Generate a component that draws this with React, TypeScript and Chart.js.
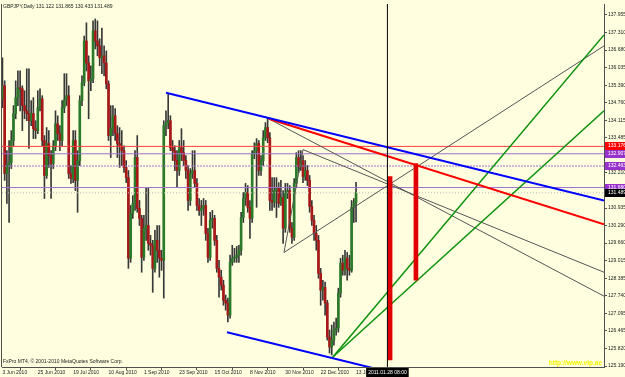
import React, { useEffect, useRef } from 'react';
import { Chart, registerables } from 'chart.js';

Chart.register(...registerables);

// ---------- data ----------
const title = 'GBPJPY,Daily 131.122 131.865 130.433 131.489';
const copyright = 'FxPro MT4, © 2001-2010 MetaQuotes Software Corp.';
const siteText = 'http://www.vip.ae';
const cursorDate = '2011.01.28 08:00';

const dateLabels = ['3 Jun 2010', '25 Jun 2010', '19 Jul 2010', '10 Aug 2010', '1 Sep 2010', '23 Sep 2010', '15 Oct 2010', '8 Nov 2010', '30 Nov 2010', '22 Dec 2010', '13 Jan 2011'];
const dateBars = [0, 16, 32, 48, 64, 80, 96, 112, 128, 144, 160];

const priceTicks = [137.955, 137.31, 136.68, 136.035, 135.39, 134.76, 134.115, 133.485, 132.21, 130.935, 130.29, 129.66, 129.015, 128.385, 127.74, 127.095, 126.465, 125.82, 125.19];

const opens = [134.91, 135.38, 132.19, 132.48, 132.59, 133.39, 134.37, 134.95, 135.31, 135.27, 134.66, 134.47, 134.37, 134.11, 134.37, 133.82, 133.75, 134.58, 134.91, 133.39, 132.12, 133.28, 132.84, 132.55, 133.17, 134.00, 133.64, 133.39, 134.58, 134.87, 135.02, 132.19, 132.01, 133.39, 131.94, 132.66, 134.84, 135.49, 137.01, 136.21, 135.56, 135.63, 137.38, 137.01, 136.83, 136.40, 136.47, 136.21, 135.45, 133.57, 133.82, 134.29, 133.64, 133.28, 133.17, 133.02, 132.41, 132.04, 129.11, 130.74, 131.10, 132.77, 130.92, 130.56, 129.14, 130.20, 130.30, 129.65, 129.58, 128.74, 129.76, 129.40, 129.11, 129.03, 133.93, 134.04, 134.11, 133.13, 133.02, 132.66, 132.30, 133.13, 132.95, 132.66, 132.30, 131.21, 132.19, 132.30, 131.83, 131.03, 130.85, 130.92, 131.03, 130.01, 129.14, 130.49, 130.56, 129.76, 128.74, 128.42, 128.13, 127.58, 127.48, 127.04, 128.96, 129.11, 129.14, 129.22, 129.40, 130.59, 131.28, 131.50, 130.96, 130.56, 132.91, 133.02, 133.28, 132.30, 132.66, 133.49, 133.86, 133.49, 131.21, 131.14, 131.57, 131.65, 131.10, 131.32, 130.20, 131.50, 131.57, 130.20, 129.87, 131.83, 132.77, 132.44, 132.66, 132.08, 132.30, 131.94, 130.99, 130.49, 130.01, 129.76, 128.56, 127.95, 128.05, 127.48, 126.24, 125.88, 126.13, 126.50, 126.57, 127.84, 128.93, 128.67, 129.11, 128.74, 128.67, 130.96, 131.122];
const highs = [136.40, 135.56, 133.02, 133.39, 133.75, 134.66, 135.56, 135.92, 135.92, 135.38, 135.20, 136.00, 136.00, 134.84, 134.95, 134.11, 135.20, 135.27, 135.02, 133.57, 133.86, 133.75, 133.02, 133.39, 134.47, 134.29, 133.93, 134.84, 135.82, 135.82, 135.38, 132.48, 133.75, 133.75, 133.02, 135.02, 135.74, 137.19, 137.67, 136.47, 136.11, 137.74, 137.81, 137.74, 137.09, 137.48, 136.83, 136.65, 135.56, 134.66, 134.66, 134.55, 133.93, 133.86, 133.75, 133.20, 132.66, 132.30, 131.03, 131.39, 133.02, 133.57, 131.21, 130.67, 130.67, 131.65, 131.65, 129.94, 129.76, 130.12, 130.30, 130.30, 129.40, 134.11, 134.47, 135.09, 134.29, 133.39, 133.20, 133.02, 133.39, 133.82, 133.39, 132.84, 132.48, 132.37, 133.02, 133.02, 132.01, 131.28, 131.21, 131.28, 131.21, 130.20, 130.78, 130.85, 130.67, 129.94, 129.03, 128.67, 128.31, 127.77, 127.66, 129.22, 129.58, 129.47, 129.54, 129.58, 130.78, 131.50, 131.83, 131.75, 131.21, 133.02, 133.31, 133.46, 133.39, 132.84, 133.75, 134.04, 134.22, 133.68, 132.04, 132.04, 132.04, 131.86, 131.94, 131.57, 131.83, 131.83, 131.75, 130.41, 132.01, 132.95, 133.02, 133.02, 132.84, 132.66, 132.48, 132.12, 131.21, 130.67, 130.30, 129.94, 128.74, 128.31, 128.24, 127.58, 126.50, 126.68, 126.79, 126.93, 128.02, 129.11, 129.22, 129.40, 129.32, 129.22, 131.21, 131.28, 131.865];
const lows = [134.58, 131.94, 131.10, 130.41, 132.37, 133.20, 134.18, 134.66, 134.47, 133.75, 134.18, 134.11, 133.10, 133.93, 133.46, 133.46, 133.64, 134.47, 133.20, 131.28, 132.01, 132.41, 131.28, 132.37, 133.02, 133.39, 133.02, 133.20, 134.40, 134.66, 132.01, 131.83, 131.86, 131.57, 130.78, 132.48, 134.66, 135.38, 135.92, 134.18, 135.20, 135.49, 136.72, 136.47, 136.11, 135.82, 135.74, 135.27, 133.39, 132.77, 133.57, 133.39, 132.77, 132.41, 132.48, 132.23, 131.86, 128.74, 128.96, 130.56, 130.85, 130.78, 130.30, 128.60, 129.03, 129.76, 129.40, 129.22, 127.87, 128.60, 128.96, 128.42, 128.67, 127.66, 133.57, 133.82, 133.02, 132.66, 132.30, 131.68, 132.12, 132.66, 132.48, 132.01, 130.85, 131.03, 132.01, 131.68, 130.85, 130.67, 130.30, 130.67, 129.76, 128.96, 129.03, 130.20, 129.58, 128.60, 127.69, 127.95, 127.40, 127.22, 126.79, 126.93, 128.85, 128.96, 128.96, 128.96, 129.22, 130.41, 131.03, 130.78, 129.83, 130.41, 132.73, 130.96, 132.12, 132.12, 132.48, 133.39, 133.31, 130.85, 130.85, 130.96, 130.59, 130.96, 131.03, 129.65, 130.05, 131.28, 130.05, 129.65, 129.76, 131.68, 132.23, 132.30, 131.86, 131.94, 131.75, 130.78, 130.30, 129.76, 129.40, 128.38, 127.40, 127.58, 127.04, 126.13, 125.66, 125.59, 125.95, 126.31, 126.42, 127.69, 128.49, 128.49, 128.31, 128.49, 128.60, 130.41, 130.433];
const closes = [135.38, 132.19, 132.48, 132.59, 133.39, 134.37, 134.95, 135.31, 135.27, 134.66, 134.47, 134.37, 134.11, 134.37, 133.82, 133.75, 134.58, 134.91, 133.39, 132.12, 133.28, 132.84, 132.55, 133.17, 134.00, 133.64, 133.39, 134.58, 134.87, 135.02, 132.19, 132.01, 133.39, 131.94, 132.66, 134.84, 135.49, 137.01, 136.21, 135.56, 135.63, 137.38, 137.01, 136.83, 136.40, 136.47, 136.21, 135.45, 133.57, 133.82, 134.29, 133.64, 133.28, 133.17, 133.02, 132.41, 132.04, 129.11, 130.74, 131.10, 132.77, 130.92, 130.56, 129.14, 130.20, 130.30, 129.65, 129.58, 128.74, 129.76, 129.40, 129.11, 129.03, 133.93, 134.04, 134.11, 133.13, 133.02, 132.66, 132.30, 133.13, 132.95, 132.66, 132.30, 131.21, 132.19, 132.30, 131.83, 131.03, 130.85, 130.92, 131.03, 130.01, 129.14, 130.49, 130.56, 129.76, 128.74, 128.42, 128.13, 127.58, 127.48, 127.04, 128.96, 129.11, 129.14, 129.22, 129.40, 130.59, 131.28, 131.50, 130.96, 130.56, 132.91, 133.02, 133.28, 132.30, 132.66, 133.49, 133.86, 133.49, 131.21, 131.14, 131.57, 131.65, 131.10, 131.32, 130.20, 131.50, 131.57, 130.20, 129.87, 131.83, 132.77, 132.44, 132.66, 132.08, 132.30, 131.94, 130.99, 130.49, 130.01, 129.76, 128.56, 127.95, 128.05, 127.48, 126.24, 125.88, 126.13, 126.50, 126.57, 127.84, 128.93, 128.67, 129.11, 128.74, 128.67, 130.96, 131.122, 131.489];

// horizontal price levels
const levelPrices = [133.176, 132.907, 132.463, 131.68, 131.489];

// trend objects: [barIndex, price] pairs
const blueUpper = [[74, 135.13], [272.2, 131.21]];
const blueLower = [[101.6, 126.42], [272.2, 123.05]];
const redTrend = [[120.5, 134.18], [272.2, 130.34]];
const grayA = [[120.5, 134.18], [272.2, 127.73]];
const grayB = [[136.0, 133.06], [272.2, 128.6]];
const grayC = [[127.4, 129.32], [272.2, 136.83]];
const grayD = [[127.4, 129.32], [136.0, 133.06]];
const greenA = [[149.5, 125.52], [272.2, 137.23]];
const greenB = [[149.5, 125.52], [272.2, 134.47]];
const redBarX = [175.4, 187.1];
const redBarLow = [125.41, 128.31];
const redBarHigh = [132.08, 132.55];
const cursorBar = 174.2;

// ---------- styles ----------
const X_MIN = -0.2;
const X_MAX = 272.2;
const Y_MIN = 125.154;
const Y_MAX = 138.354;
const BG = '#FFFFE0';
const FONT = "'Liberation Sans', Arial, sans-serif";
const AXIS = '#505050';
const UP = '#2A7A2A';
const DOWN = '#A81818';
const levelLineColors = ['#FF4040', '#A070D0', '#A070D0', '#A070D0', '#B8B8B8'];
const levelDashes: number[][] = [[], [], [2, 1], [], [1, 2]];
const levelBoxColors = ['#FF0000', '#9932CC', '#9932CC', '#9932CC', '#000000'];

const seg = (pts: number[][]) => pts.map(([x, y]) => ({ x, y }));

const lineDs = (pts: number[][], color: string, width: number, dash: number[] = []) => ({
  type: 'line' as const,
  data: seg(pts),
  borderColor: color,
  borderWidth: width,
  borderDash: dash,
  pointRadius: 0,
  fill: false,
  tension: 0,
});

const overlayPlugin = {
  id: 'overlay',
  beforeDraw(chart: any) {
    const ctx = chart.ctx;
    ctx.save();
    ctx.fillStyle = BG;
    ctx.fillRect(0, 0, chart.width, chart.height);
    ctx.restore();
  },
  afterDraw(chart: any) {
    const { ctx, chartArea, scales } = chart;
    ctx.save();
    // left border
    ctx.strokeStyle = AXIS;
    ctx.lineWidth = 1;
    ctx.beginPath();
    ctx.moveTo(chartArea.left - 0.5, chartArea.top);
    ctx.lineTo(chartArea.left - 0.5, chartArea.bottom);
    ctx.stroke();

    ctx.textBaseline = 'middle';
    ctx.textAlign = 'left';
    ctx.font = `5px ${FONT}`;
    ctx.fillStyle = '#202020';
    ctx.fillText(title, chartArea.left + 1, 7);
    ctx.fillText(copyright, chartArea.left + 1, 362);

    ctx.font = `bold 6.5px ${FONT}`;
    ctx.fillStyle = '#F2F200';
    ctx.textAlign = 'right';
    ctx.fillText(siteText, chartArea.right - 2, 363);

    // price level labels on the axis
    ctx.font = `5px ${FONT}`;
    ctx.textAlign = 'left';
    levelPrices.forEach((p, i) => {
      const y = scales.y.getPixelForValue(p);
      ctx.fillStyle = levelBoxColors[i];
      ctx.fillRect(chartArea.right + 1, Math.round(y) - 4, 21, 8);
      ctx.fillStyle = '#FFFFFF';
      ctx.fillText(p.toFixed(3), chartArea.right + 4, Math.round(y));
    });

    // cursor date label
    const cx = scales.x.getPixelForValue(cursorBar);
    ctx.font = `5px ${FONT}`;
    const w = ctx.measureText(cursorDate).width + 4;
    ctx.fillStyle = '#000000';
    ctx.fillRect(cx - w / 2, chartArea.bottom + 1, w, 9);
    ctx.fillStyle = '#FFFFFF';
    ctx.textAlign = 'center';
    ctx.fillText(cursorDate, cx, chartArea.bottom + 5.5);
    ctx.restore();
  },
};

export default function App() {
  const ref = useRef<HTMLCanvasElement | null>(null);

  useEffect(() => {
    document.body.style.margin = '0';
    const canvas = ref.current;
    if (!canvas) return;

    const bodies = opens.map((o, i) => ({ x: i, y: [o, closes[i]] }));
    const bodyColors = opens.map((o, i) => (closes[i] >= o ? UP : DOWN));
    const wicks = lows.map((l, i) => ({ x: i, y: [l, highs[i]] }));

    const levelDs = levelPrices.map((p, i) =>
      lineDs([[X_MIN, p], [X_MAX, p]], levelLineColors[i], 1, levelDashes[i])
    );

    const chart = new Chart(canvas, {
      type: 'bar',
      data: {
        datasets: [
          lineDs([[cursorBar, Y_MIN], [cursorBar, Y_MAX]], '#000000', 1),
          {
            type: 'bar',
            data: redBarX.map((x, i) => ({ x, y: [redBarLow[i], redBarHigh[i]] })),
            backgroundColor: '#E00000',
            barThickness: 4,
            grouped: false,
          } as any,
          lineDs(blueUpper, '#0000FF', 2),
          lineDs(blueLower, '#0000FF', 2),
          lineDs(redTrend, '#FF0000', 2),
          lineDs(greenA, '#0A900A', 1.5),
          lineDs(greenB, '#0A900A', 1.5),
          lineDs(grayA, '#555555', 1),
          lineDs(grayB, '#555555', 1),
          lineDs(grayC, '#555555', 1),
          lineDs(grayD, '#555555', 1),
          ...levelDs,
          {
            type: 'bar',
            data: bodies,
            backgroundColor: bodyColors,
            barThickness: 2,
            minBarLength: 1,
            grouped: false,
          } as any,
          {
            type: 'bar',
            data: wicks,
            backgroundColor: '#383838',
            barThickness: 1,
            grouped: false,
          } as any,
        ],
      },
      options: {
        responsive: false,
        animation: false,
        events: [],
        devicePixelRatio: 1,
        layout: { padding: { left: 2, top: 3, right: 0, bottom: 0 } },
        plugins: { legend: { display: false }, tooltip: { enabled: false } },
        scales: {
          x: {
            type: 'linear',
            min: X_MIN,
            max: X_MAX,
            offset: false,
            afterBuildTicks: (scale: any) => {
              scale.ticks = dateBars.map((v) => ({ value: v }));
            },
            afterFit: (scale: any) => {
              scale.height = 10;
            },
            grid: { drawOnChartArea: false, drawTicks: true, tickLength: 3, color: AXIS },
            border: { display: true, color: AXIS },
            ticks: {
              autoSkip: false,
              maxRotation: 0,
              align: 'start',
              padding: 0,
              color: '#202020',
              font: { family: FONT, size: 5 },
              callback: (_v: any, i: number) => dateLabels[i],
            },
          },
          y: {
            type: 'linear',
            position: 'right',
            min: Y_MIN,
            max: Y_MAX,
            afterBuildTicks: (scale: any) => {
              scale.ticks = priceTicks.map((v) => ({ value: v }));
            },
            afterFit: (scale: any) => {
              scale.width = 21;
            },
            grid: { drawOnChartArea: false, drawTicks: true, tickLength: 3, color: AXIS },
            border: { display: true, color: AXIS },
            ticks: {
              autoSkip: false,
              padding: 1,
              color: '#202020',
              font: { family: FONT, size: 5 },
              callback: (v: any) => Number(v).toFixed(3),
            },
          },
        },
      } as any,
      plugins: [overlayPlugin],
    });

    return () => chart.destroy();
  }, []);

  return <canvas ref={ref} width={625} height={377} style={{ display: 'block' }} />;
}
